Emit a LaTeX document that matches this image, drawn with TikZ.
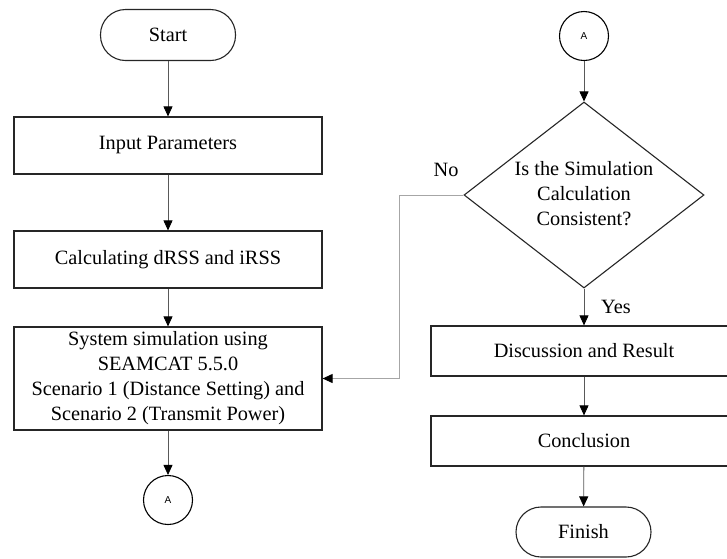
\documentclass[tikz,border=0pt]{standalone}
\usepackage{fontspec}
\setmainfont{Liberation Serif}
\newfontfamily\sansA{Liberation Sans}
\usetikzlibrary{arrows.meta,shapes.geometric}
\begin{document}
\begin{tikzpicture}[x=1pt,y=-1pt,
  every node/.style={font=\fontsize{20.3}{25}\selectfont, align=center, inner sep=0pt},
  procbox/.style={draw=black!85, line width=1.2pt, rectangle, minimum height=57pt},
  termbox/.style={draw=black!85, line width=1.1pt, rectangle, rounded corners=25pt, minimum width=135pt},
  conn/.style={draw=black, line width=1.1pt, circle, minimum size=49pt, font=\sansA\fontsize{10}{12}\selectfont},
  flow/.style={draw=black!65, line width=0.8pt, -{Triangle[length=10pt,width=9pt,fill=black,color=black]}},
  fback/.style={draw=black!35, line width=1pt, -{Triangle[length=10pt,width=9pt,fill=black,color=black]}},
  lbl/.style={font=\fontsize{20.3}{25}\selectfont}]
\clip (0,0) rectangle (727,558);
\fill[white] (0,0) rectangle (727,558);
% left column
\node[termbox, minimum height=51pt] (start) at (168,35) {Start};
\node[procbox, minimum width=308pt] (input) at (168,145.5) {Input Parameters};
\node[procbox, minimum width=308pt] (calc) at (168,259.5) {Calculating dRSS and iRSS};
\node[procbox, minimum width=308pt, minimum height=103pt] (sys) at (168,378.5)
  {System simulation using\\SEAMCAT 5.5.0\\Scenario 1 (Distance Setting) and\\Scenario 2 (Transmit Power)};
\node[conn] (a1) at (168,500) {A};
% right column
\node[conn] (a2) at (584,36) {A};
\node[diamond, draw=black!85, line width=1.1pt, minimum width=240pt, minimum height=186pt, aspect=1.29] (dec) at (584,195) {};
\node (dectext) at (584,194) {Is the Simulation\\Calculation\\Consistent?};
\node[procbox, minimum width=306pt, minimum height=50pt] (disc) at (584,351) {Discussion and Result};
\node[procbox, minimum width=306pt, minimum height=50pt] (concl) at (584,441) {Conclusion};
\node[termbox, minimum height=50pt] (finish) at (583.5,532) {Finish};
% labels
\node[lbl] (nolbl) at (446,170) {No};
\node[lbl] (yeslbl) at (616,307) {Yes};
% connectors
\draw[flow] (start) -- (input);
\draw[flow] (input) -- (calc);
\draw[flow] (calc) -- (sys);
\draw[flow] (sys) -- (a1);
\draw[flow] (a2) -- (dec.north);
\draw[flow] (dec.south) -- (disc);
\draw[flow] (disc) -- (concl);
\draw[flow] (concl) -- (finish);
\coordinate (fb) at (399,195);
\draw[fback] (dec.west) -- (fb) |- (sys.east);
\end{tikzpicture}
\end{document}
